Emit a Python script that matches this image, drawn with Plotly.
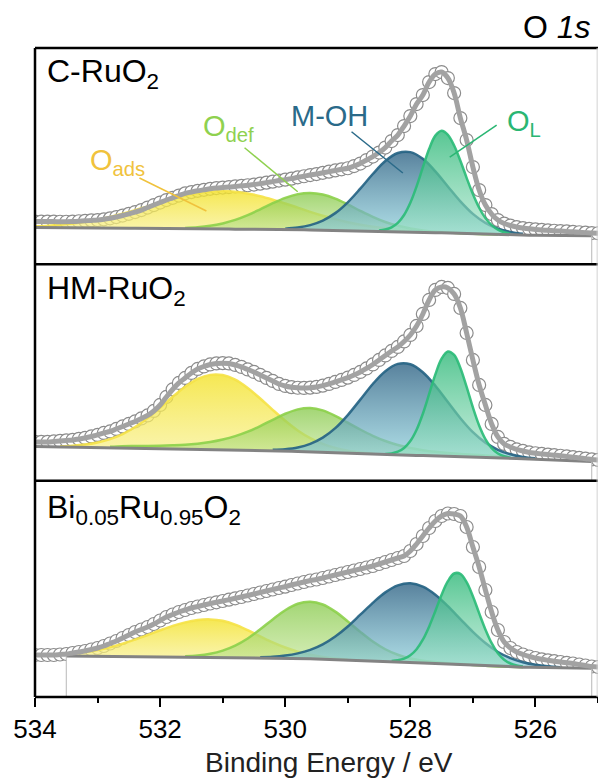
import plotly.graph_objects as go
from plotly.subplots import make_subplots

FONT = "Liberation Sans, Arial, sans-serif"
STEP = 0.1
DATA_START = 534.0          # first energy of every measured spectrum (eV)
Y_TOP = 216.33              # intensity range of each panel (a.u.)

# ---------------- measured O 1s spectra (a.u.), 0.1 eV steps 534.0 -> 525.0 eV
c_ruo2_counts = [
    42.8, 42.8, 42.8, 42.8, 42.6, 42.6, 42.8, 43.1, 43.5, 43.9,
    44.3, 45.0, 46.0, 47.3, 48.8, 50.5, 52.3, 54.3, 56.8, 59.3,
    61.8, 64.3, 66.5, 68.8, 71.0, 72.3, 73.5, 74.5, 75.5, 76.3,
    76.8, 77.3, 77.9, 78.5, 79.1, 79.8, 80.7, 81.7, 82.7, 83.8,
    84.7, 85.7, 87.0, 88.1, 89.3, 90.3, 91.5, 92.7, 93.9, 95.0,
    96.1, 98.3, 100.8, 104.3, 107.8, 111.8, 116.8, 123.3, 129.3, 138.3,
    148.3, 160.3, 169.3, 182.3, 190.3, 192.3, 186.3, 171.3, 146.3, 124.3,
    97.3, 74.3, 59.3, 50.3, 44.3, 40.8, 38.8, 37.3, 36.3, 35.5,
    34.9, 34.4, 34.0, 33.6, 33.3, 32.9, 32.5, 32.1, 31.7, 31.3,
    31.1,
]
hm_ruo2_counts = [
    38.7, 38.7, 38.7, 39.2, 39.7, 40.2, 40.7, 41.7, 42.7, 44.2,
    45.7, 47.7, 49.2, 51.7, 54.2, 56.7, 59.2, 62.2, 65.2, 69.7,
    75.7, 83.7, 91.2, 97.7, 102.7, 107.7, 111.7, 114.2, 116.2, 117.2,
    117.5, 117.2, 115.7, 113.7, 111.2, 108.7, 105.7, 102.7, 99.7, 96.7,
    94.7, 93.5, 92.9, 92.7, 93.0, 93.7, 95.0, 96.7, 98.7, 100.7,
    103.0, 105.7, 108.7, 112.2, 116.2, 120.7, 125.2, 129.7, 133.7, 139.2,
    145.7, 154.7, 166.7, 180.7, 190.7, 193.7, 192.7, 186.7, 172.7, 147.7,
    120.7, 95.7, 75.7, 56.7, 43.7, 36.7, 33.7, 31.2, 29.7, 28.2,
    27.4, 26.7, 26.1, 25.5, 24.9, 24.2, 23.5, 22.7, 22.0, 21.2,
    20.7,
]
bi_ruo2_counts = [
    42.0, 42.0, 42.0, 42.0, 42.5, 43.0, 44.0, 45.0, 46.0, 47.5,
    49.0, 51.0, 53.5, 56.0, 59.0, 62.0, 65.0, 67.5, 70.0, 73.0,
    76.5, 80.0, 82.5, 85.0, 87.0, 89.0, 90.5, 92.0, 93.5, 94.7,
    96.0, 97.3, 98.7, 100.0, 101.5, 103.0, 104.5, 106.0, 107.5, 109.0,
    110.3, 112.0, 113.5, 115.0, 116.5, 117.5, 119.0, 120.5, 122.0, 123.5,
    125.0, 126.5, 128.0, 129.5, 131.0, 133.0, 135.0, 137.0, 139.0, 141.0,
    146.0, 153.0, 161.0, 169.0, 176.0, 181.0, 183.5, 183.0, 181.0, 170.0,
    150.0, 130.0, 107.0, 85.0, 67.0, 55.0, 49.0, 45.0, 42.5, 40.5,
    39.0, 37.7, 36.7, 35.8, 35.0, 34.2, 33.5, 32.5, 31.5, 30.5,
    30.0,
]

# ---------------- Shirley backgrounds (a.u.), 0.1 eV steps
c_ruo2_bg_start = 534.0
c_ruo2_bg = [
    36.8, 36.8, 36.7, 36.7, 36.6, 36.6, 36.5, 36.5, 36.4, 36.4,
    36.3, 36.3, 36.2, 36.2, 36.1, 36.1, 36.0, 36.0, 35.9, 35.9,
    35.8, 35.8, 35.7, 35.7, 35.6, 35.6, 35.5, 35.5, 35.4, 35.4,
    35.3, 35.3, 35.2, 35.2, 35.1, 35.1, 35.0, 35.0, 34.9, 34.9,
    34.8, 34.7, 34.6, 34.5, 34.4, 34.3, 34.2, 34.1, 34.0, 33.9,
    33.75, 33.6, 33.5, 33.4, 33.3, 33.2, 33.1, 33.0, 32.9, 32.8,
    32.7, 32.5, 32.2, 32.0, 31.7, 31.5, 31.3, 31.0, 30.8, 30.5,
    30.3, 30.2, 30.0, 29.9, 29.8, 29.7, 29.6, 29.4, 29.3, 29.2,
    29.1, 29.05, 29.0, 29.0, 28.9, 28.9, 28.8, 28.8, 28.7, 28.7,
]
hm_ruo2_bg_start = 534.0
hm_ruo2_bg = [
    34.2, 34.1, 34.0, 33.9, 33.8, 33.7, 33.6, 33.5, 33.4, 33.3,
    33.2, 33.1, 33.0, 32.9, 32.8, 32.7, 32.6, 32.5, 32.4, 32.3,
    32.2, 32.1, 32.0, 31.9, 31.8, 31.7, 31.6, 31.5, 31.4, 31.3,
    31.2, 31.05, 30.9, 30.75, 30.6, 30.45, 30.3, 30.15, 30.0, 29.85,
    29.7, 29.45, 29.2, 28.95, 28.7, 28.45, 28.2, 27.95, 27.7, 27.45,
    27.2, 27.0, 26.85, 26.65, 26.5, 26.3, 26.1, 25.95, 25.75, 25.6,
    25.4, 25.2, 25.05, 24.9, 24.7, 24.55, 24.4, 24.2, 24.05, 23.9,
    23.7, 23.5, 23.25, 23.0, 22.8, 22.55, 22.35, 22.1, 21.9, 21.7,
    21.5, 21.25, 21.0, 20.7, 20.5, 20.2, 19.95, 19.7, 19.45, 19.2,
]
bi_ruo2_bg_start = 533.5
bi_ruo2_bg = [
    41.0, 40.95, 40.9, 40.8, 40.75, 40.7, 40.65, 40.6, 40.5, 40.45,
    40.4, 40.35, 40.3, 40.2, 40.15, 40.1, 40.05, 40.0, 39.9, 39.85,
    39.8, 39.75, 39.7, 39.6, 39.55, 39.5, 39.45, 39.4, 39.3, 39.25,
    39.2, 39.15, 39.1, 39.0, 38.95, 38.9, 38.8, 38.7, 38.5, 38.3,
    38.1, 37.9, 37.65, 37.45, 37.25, 37.0, 36.8, 36.6, 36.4, 36.15,
    35.95, 35.75, 35.5, 35.3, 35.0, 34.7, 34.4, 34.1, 33.75, 33.45,
    33.15, 32.8, 32.5, 32.2, 31.9, 31.6, 31.25, 30.95, 30.6, 30.3,
    30.2, 30.1, 30.0, 29.85, 29.75, 29.65, 29.55, 29.45, 29.35, 29.25,
    29.15, 29.05, 28.9, 28.8, 28.7,
]

# ---------------- fitted components: height above background (a.u.)
# each: first energy (eV), energy step (eV), heights
c_ruo2_oads = (534.0, 0.2, [1.3, 2.0, 3.0, 4.3, 6.1, 8.4, 11.2, 14.4, 18.1, 22.1, 26.0, 29.8, 33.2, 35.8,
                            37.4, 38.0, 37.4, 35.8, 33.2, 29.8, 26.0, 22.1, 18.1, 14.4, 11.2, 8.4, 6.1,
                            4.3, 3.0, 2.0, 1.3])
c_ruo2_odef = (531.6, 0.2, [0.8, 1.6, 3.1, 5.6, 9.2, 14.1, 20.0, 26.2, 31.7, 35.6, 37.0, 35.6, 31.7, 26.2,
                            20.0, 14.1, 9.2, 5.6, 3.1, 1.6, 0.8, 0.5, 0.3, 0.2, 0.1, 0.0])
c_ruo2_moh = (530.0, 0.2, [0.9, 2.2, 4.8, 9.5, 17.2, 28.3, 42.2, 57.0, 70.2, 78.4, 79.5, 73.3, 61.3, 46.6,
                           32.2, 20.2, 11.5, 5.9, 2.8, 1.2])
c_ruo2_ol = (528.5, 0.1, [0.6, 1.7, 4.0, 8.6, 16.5, 28.8, 45.4, 64.7, 83.3, 97.0, 102.0, 98.2, 87.8, 72.8,
                          56.0, 40.0, 26.4, 16.2, 9.3, 4.9, 2.4, 1.1])

hm_ruo2_oads = (533.6, 0.2, [0.7, 1.4, 2.7, 5.0, 8.6, 13.8, 21.0, 30.2, 40.8, 51.9, 62.1, 70.1, 74.4, 74.4,
                             70.1, 62.1, 51.9, 40.8, 30.2, 21.0, 13.8, 8.6, 5.0, 2.7, 1.4, 0.7])
hm_ruo2_odef = (532.8, 0.2, [0.8, 1.7, 2.0, 2.3, 2.7, 3.3, 4.1, 5.4, 7.2, 9.9, 13.6, 18.4, 24.3, 30.8, 37.2,
                             42.1, 44.0, 42.1, 37.2, 30.8, 24.3, 18.4, 13.6, 9.9, 7.2, 5.4, 4.1, 3.3, 2.7,
                             2.3, 2.0, 1.7, 0.8])
hm_ruo2_moh = (530.2, 0.2, [0.8, 1.8, 4.0, 8.1, 14.8, 24.8, 38.4, 54.2, 70.2, 83.4, 91.0, 91.0, 83.4, 70.2,
                            54.2, 38.4, 24.8, 14.8, 8.1, 4.0, 1.8, 0.8])
hm_ruo2_ol = (528.4, 0.1, [0.5, 1.3, 3.2, 7.1, 14.2, 25.7, 41.9, 61.6, 81.6, 97.4, 104.8, 101.6, 88.7, 69.8,
                           49.5, 31.7, 18.3, 9.5, 4.4, 1.9, 0.7])

bi_ruo2_oads = (533.4, 0.2, [2.6, 4.1, 6.3, 9.2, 12.8, 17.1, 21.8, 26.6, 31.1, 34.8, 37.2, 38.0, 36.7, 33.0,
                             27.6, 21.5, 15.6, 10.6, 6.7, 3.9, 2.1, 1.1, 0.5])
bi_ruo2_odef = (531.6, 0.2, [0.8, 1.7, 3.6, 6.9, 12.0, 19.3, 28.5, 38.6, 47.9, 54.6, 57.0, 54.6, 47.9, 38.6,
                             28.5, 19.3, 12.0, 6.9, 3.8, 2.2, 1.5, 1.0, 0.7, 0.5, 0.3, 0.2, 0.1, 0.0])
bi_ruo2_moh = (530.4, 0.2, [0.6, 1.2, 2.5, 4.9, 8.8, 14.7, 23.0, 33.5, 45.7, 58.0, 68.9, 76.3, 79.0, 76.3,
                            68.9, 58.0, 45.7, 33.5, 23.0, 14.7, 8.8, 4.9, 2.5, 1.2, 0.6])
bi_ruo2_ol = (528.3, 0.1, [0.6, 1.5, 3.4, 7.1, 13.4, 23.2, 36.6, 52.6, 69.2, 83.0, 91.0, 91.0, 83.0, 69.2,
                           52.6, 36.6, 23.2, 13.4, 7.1, 3.4, 1.5, 0.6])

sample_names = ["C-RuO<sub>2</sub>", "HM-RuO<sub>2</sub>",
                "Bi<sub>0.05</sub>Ru<sub>0.95</sub>O<sub>2</sub>"]
tick_values = [534, 532, 530, 528, 526]
minor_tick_values = [533, 531, 529, 527, 525]

# ---------------- styles (semi-transparent so overlapping peaks show through)
component_styles = {
    "O_ads": dict(line="rgba(245,226,70,0.90)",
                  scale=[[0, "rgba(248,240,140,0.70)"], [1, "rgba(243,226,40,0.80)"]]),
    "O_def": dict(line="rgba(140,208,74,0.90)",
                  scale=[[0, "rgba(196,230,150,0.65)"], [1, "rgba(132,200,70,0.75)"]]),
    "M-OH": dict(line="rgba(38,100,132,0.92)",
                 scale=[[0, "rgba(140,208,220,0.70)"], [1, "rgba(46,98,132,0.80)"]]),
    "O_L": dict(line="rgba(44,188,120,0.92)",
                scale=[[0, "rgba(160,226,198,0.62)"], [1, "rgba(40,182,116,0.78)"]]),
}
DATA_LINE = "#a2a2a2"
BG_LINE = "#838383"
EDGE_LINE = "#b8b8b8"

panels = [
    (sample_names[0], c_ruo2_counts, c_ruo2_bg_start, c_ruo2_bg,
     [("O_ads", c_ruo2_oads), ("O_def", c_ruo2_odef), ("M-OH", c_ruo2_moh), ("O_L", c_ruo2_ol)]),
    (sample_names[1], hm_ruo2_counts, hm_ruo2_bg_start, hm_ruo2_bg,
     [("O_ads", hm_ruo2_oads), ("O_def", hm_ruo2_odef), ("M-OH", hm_ruo2_moh), ("O_L", hm_ruo2_ol)]),
    (sample_names[2], bi_ruo2_counts, bi_ruo2_bg_start, bi_ruo2_bg,
     [("O_ads", bi_ruo2_oads), ("O_def", bi_ruo2_odef), ("M-OH", bi_ruo2_moh), ("O_L", bi_ruo2_ol)]),
]


def energies(start, step, n):
    return [round(start - i * step, 2) for i in range(n)]


fig = make_subplots(rows=3, cols=1, shared_xaxes=True, vertical_spacing=0)

for row, (name, counts, bg_start, bg, comps) in enumerate(panels, start=1):
    e_data = energies(DATA_START, STEP, len(counts))
    e_bg = energies(bg_start, STEP, len(bg))

    # measured points (open circles)
    fig.add_trace(go.Scatter(x=e_data, y=counts, mode="markers", showlegend=False,
                             marker=dict(symbol="circle", size=13, color="white",
                                         line=dict(color="#8c8c8c", width=1.2))),
                  row=row, col=1)
    # area under the background is blanked out
    fig.add_trace(go.Scatter(x=e_bg, y=bg, mode="lines", showlegend=False,
                             line=dict(width=0, color="white"),
                             fill="tozeroy", fillcolor="white"),
                  row=row, col=1)

    # fitted components, each filled down to the background
    for comp_name, (start, step, heights) in comps:
        e_c = energies(start, step, len(heights))
        base = [bg[round((bg_start - e) / STEP)] for e in e_c]
        top = [b + h for b, h in zip(base, heights)]
        style = component_styles[comp_name]
        fig.add_trace(go.Scatter(x=e_c, y=base, mode="lines", showlegend=False,
                                 line=dict(width=0, shape="spline")),
                      row=row, col=1)
        fig.add_trace(go.Scatter(x=e_c, y=top, mode="lines", showlegend=False,
                                 line=dict(color=style["line"], width=2.5, shape="spline"),
                                 fill="tonexty",
                                 fillgradient=dict(type="vertical", colorscale=style["scale"])),
                      row=row, col=1)

    # background line and the edges of the blanked region
    fig.add_trace(go.Scatter(x=e_bg, y=bg, mode="lines", showlegend=False,
                             line=dict(color=BG_LINE, width=3)),
                  row=row, col=1)
    for idx in (0, len(bg) - 1):
        if row < 3 and idx == 0:
            continue
        fig.add_trace(go.Scatter(x=[e_bg[idx], e_bg[idx]], y=[bg[idx], 0], mode="lines",
                                 showlegend=False, line=dict(color=EDGE_LINE, width=1)),
                      row=row, col=1)

    # line through the measured points
    fig.add_trace(go.Scatter(x=e_data, y=counts, mode="lines", showlegend=False,
                             line=dict(color=DATA_LINE, width=5, shape="spline")),
                  row=row, col=1)

fig.update_yaxes(range=[0, Y_TOP], showticklabels=False, showgrid=False, zeroline=False,
                 showline=False, ticks="")
fig.update_xaxes(range=[534, 525], showgrid=False, zeroline=False, showline=False)
fig.update_xaxes(showticklabels=False, ticks="", row=1, col=1)
fig.update_xaxes(showticklabels=False, ticks="", row=2, col=1)
fig.update_xaxes(tickmode="array", tickvals=tick_values, ticktext=[str(v) for v in tick_values],
                 ticks="outside", ticklen=9, tickwidth=2, tickcolor="black",
                 tickfont=dict(family=FONT, size=26, color="black"),
                 minor=dict(tickmode="array", tickvals=minor_tick_values, ticks="outside",
                            ticklen=5, tickwidth=2, tickcolor="black"),
                 row=3, col=1)

shapes = []
# panel frames
for yv in (0, 1 / 3, 2 / 3, 1):
    shapes.append(dict(type="line", xref="paper", yref="paper", x0=0, x1=1, y0=yv, y1=yv,
                       line=dict(color="black", width=2.5), layer="above"))
shapes.append(dict(type="line", xref="paper", yref="paper", x0=0, x1=0, y0=0, y1=1,
                   line=dict(color="black", width=2.5), layer="above"))
shapes.append(dict(type="line", xref="paper", yref="paper", x0=0.9985, x1=0.9985, y0=0, y1=1,
                   line=dict(color="#d2d2d2", width=1), layer="above"))

# component labels with pointer lines (top panel)
label_specs = [
    ("O<sub>ads</sub>", "#f0c23c", 533.16, 102.3, "left", (532.33, 86.3, 531.26, 53.3)),
    ("O<sub>def</sub>", "#8fd14f", 531.34, 136.3, "left", (530.65, 116.6, 529.80, 72.6)),
    ("M-OH", "#2a6a89", 529.29, 148.8, "center", (528.94, 132.6, 528.12, 91.3)),
    ("O<sub>L</sub>", "#2ab673", 526.49, 141.3, "left", (526.62, 139.3, 527.37, 107.3)),
]
annotations = []
for text, color, ex, iy, anchor, (x0, y0, x1, y1) in label_specs:
    annotations.append(dict(text=text, x=ex, y=iy, xref="x", yref="y", xanchor=anchor,
                            yanchor="middle", showarrow=False,
                            font=dict(family=FONT, size=29, color=color)))
    shapes.append(dict(type="line", xref="x", yref="y", x0=x0, y0=y0, x1=x1, y1=y1,
                       line=dict(color=color, width=1.5), layer="above"))

# sample names
for yv, name in zip((0.9600, 0.6256, 0.2882), sample_names):
    annotations.append(dict(text=name, x=0.0178, y=yv, xref="paper", yref="paper",
                            xanchor="left", yanchor="middle", showarrow=False,
                            font=dict(family=FONT, size=32, color="black")))

annotations.append(dict(text="O <i>1s</i>", x=0.9911, y=1.0324, xref="paper", yref="paper",
                        xanchor="right", yanchor="middle", showarrow=False,
                        font=dict(family=FONT, size=32, color="black")))
annotations.append(dict(text="Binding Energy / eV", x=0.523, y=-0.1002, xref="paper",
                        yref="paper", xanchor="center", yanchor="middle", showarrow=False,
                        font=dict(family=FONT, size=28, color="#222222")))

fig.update_layout(width=598, height=778, margin=dict(l=35, r=0, t=48, b=81),
                  paper_bgcolor="white", plot_bgcolor="white",
                  shapes=shapes, annotations=annotations, showlegend=False)

fig.write_html("out.html")
